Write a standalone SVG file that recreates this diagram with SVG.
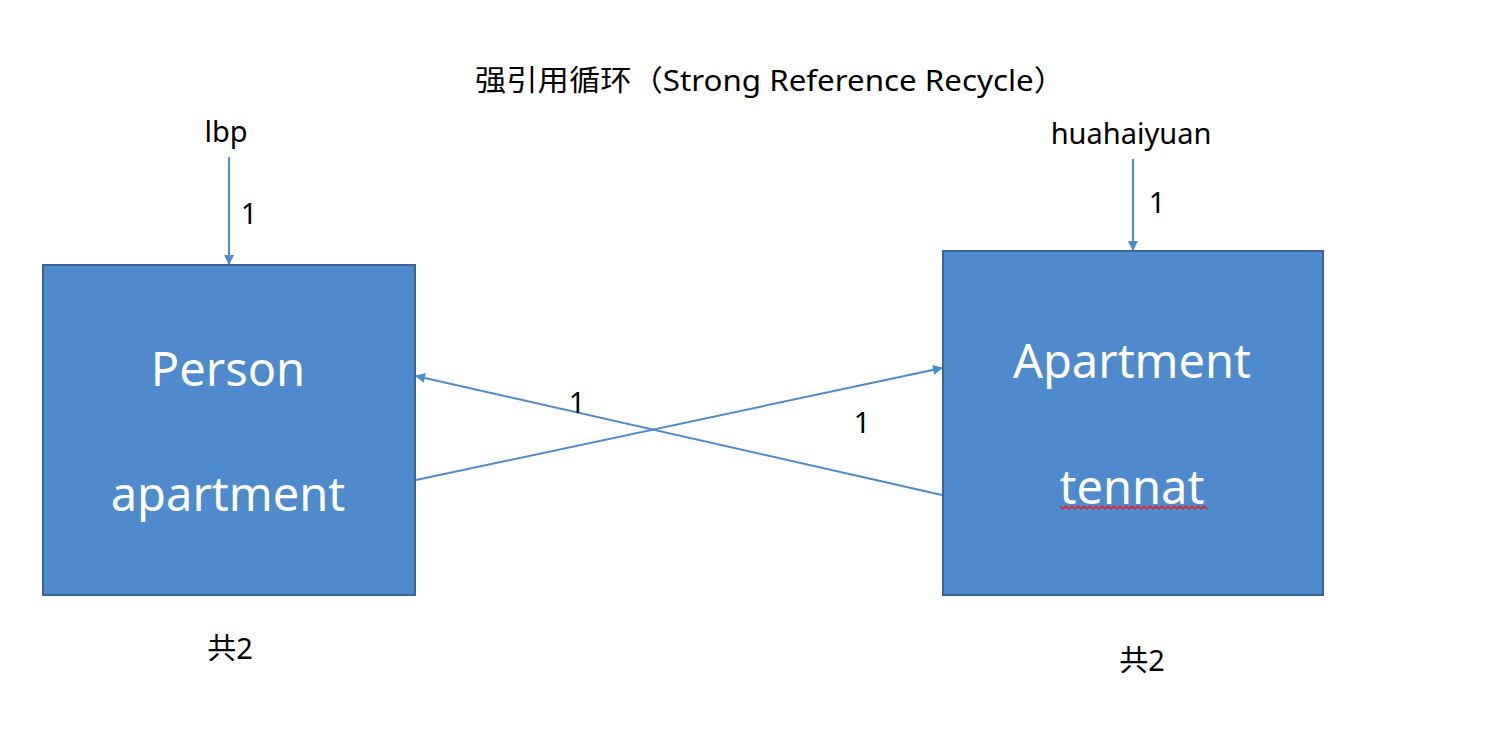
<svg xmlns="http://www.w3.org/2000/svg" width="1496" height="732" viewBox="0 0 1496 732">
<style>
.box{fill:#4e8acc;stroke:#3a6496;stroke-width:2}
.conn{stroke:#4e8acc;stroke-width:2;fill:none}
.lbl{font-family:"Noto Sans","Noto Sans CJK SC",sans-serif;fill:#000}
.in{font-family:"Noto Sans","Noto Sans CJK SC",sans-serif;fill:#fff;font-size:47px;text-anchor:middle}
</style>
<defs>
<marker id="ah" viewBox="0 0 10 10" refX="9" refY="5" markerWidth="11" markerHeight="10" markerUnits="userSpaceOnUse" orient="auto">
<path d="M0,0 L10,5 L0,10 z" fill="#4e8acc"/>
</marker>
</defs>
<rect width="1496" height="732" fill="#fff"/>
<text class="lbl" x="475" y="91" font-size="29" textLength="590" lengthAdjust="spacingAndGlyphs">强引用循环（Strong Reference Recycle）</text>
<g id="lbp"><text class="lbl" x="226" y="142" font-size="29" text-anchor="middle">lbp</text></g>
<g id="huahaiyuan"><text class="lbl" x="1131" y="144" font-size="29" text-anchor="middle">huahaiyuan</text></g>
<g id="person">
<rect class="box" x="43" y="265" width="372" height="330"/>
<text class="in" x="228" y="386">Person</text>
<text class="in" x="228" y="511">apartment</text>
</g>
<g id="apartment">
<rect class="box" x="943" y="251" width="380" height="344"/>
<text class="in" x="1132" y="378">Apartment</text>
<text class="in" x="1132" y="504">tennat</text>
<path d="M1060,506 l3,3 l3,-3 l3,3 l3,-3 l3,3 l3,-3 l3,3 l3,-3 l3,3 l3,-3 l3,3 l3,-3 l3,3 l3,-3 l3,3 l3,-3 l3,3 l3,-3 l3,3 l3,-3 l3,3 l3,-3 l3,3 l3,-3 l3,3 l3,-3 l3,3 l3,-3 l3,3 l3,-3 l3,3 l3,-3 l3,3 l3,-3 l3,3 l3,-3 l3,3 l3,-3 l3,3 l3,-3 l3,3 l3,-3 l3,3 l3,-3 l3,3 l3,-3 l3,3 l3,-3 l3,3" fill="none" stroke="#e02020" stroke-width="1.5"/>
</g>
<g id="connectors">
<line class="conn" x1="229" y1="157" x2="229" y2="264" marker-end="url(#ah)"/>
<line class="conn" x1="1133" y1="159" x2="1133" y2="250" marker-end="url(#ah)"/>
<line class="conn" x1="942" y1="495" x2="416" y2="376" marker-end="url(#ah)"/>
<line class="conn" x1="416" y1="480" x2="942" y2="368" marker-end="url(#ah)"/>
</g>
<g id="labels">
<text class="lbl" x="249" y="224" font-size="29" text-anchor="middle">1</text>
<text class="lbl" x="1157" y="213" font-size="29" text-anchor="middle">1</text>
<text class="lbl" x="577" y="413" font-size="29" text-anchor="middle">1</text>
<text class="lbl" x="862" y="433" font-size="29" text-anchor="middle">1</text>
<text class="lbl" x="230" y="659" font-size="29" text-anchor="middle">共2</text>
<text class="lbl" x="1142" y="671" font-size="29" text-anchor="middle">共2</text>
</g>
</svg>
